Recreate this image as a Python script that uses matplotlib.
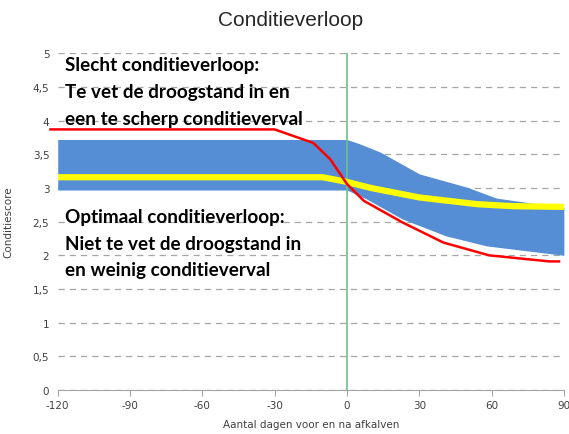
import matplotlib
matplotlib.use("Agg")
import matplotlib.pyplot as plt
from matplotlib.ticker import FuncFormatter
import numpy as np

plt.rcParams["axes.unicode_minus"] = False

# band (optimale range)
band_days = [-120, 0, 5, 14, 30, 50, 62, 90]
band_upper = [3.72, 3.72, 3.66, 3.53, 3.21, 3.01, 2.85, 2.71]
band_lower_days = [-120, 0, 8, 23, 41, 58, 90]
band_lower = [2.97, 2.97, 2.84, 2.54, 2.29, 2.14, 2.0]

# optimaal verloop (geel)
opt_days = [-120, -10, 0, 10, 30, 54, 69, 90]
opt_score = [3.16, 3.16, 3.09, 3.0, 2.86, 2.76, 2.73, 2.72]

# slecht verloop (rood)
bad_days = [-123, -30, -14, -7, 0, 7, 23, 40, 59, 84, 88]
bad_score = [3.87, 3.87, 3.67, 3.43, 3.06, 2.81, 2.49, 2.19, 2.0, 1.91, 1.91]

x_ticks = [-120, -90, -60, -30, 0, 30, 60, 90]
y_ticks = [0, 0.5, 1, 1.5, 2, 2.5, 3, 3.5, 4, 4.5, 5]

bad_text = ["Slecht conditieverloop:", "Te vet de droogstand in en",
            "een te scherp conditieverval"]
opt_text = ["Optimaal conditieverloop:", "Niet te vet de droogstand in",
            "en weinig conditieverval"]

fig = plt.figure(figsize=(5.69, 4.35), dpi=100)
ax = fig.add_axes([0.1014, 0.1011, 0.8896, 0.774])
ax.set_axisbelow(True)

all_days = sorted(set(band_days) | set(band_lower_days))
ax.fill_between(all_days, np.interp(all_days, band_days, band_upper),
                np.interp(all_days, band_lower_days, band_lower),
                color="#558ed5", lw=0, zorder=2)

ax.plot(opt_days, opt_score, color="#ffff00", lw=4.5, zorder=4,
        solid_capstyle="butt")
ax.plot(bad_days, bad_score, color="#ff0000", lw=1.8, zorder=5,
        clip_on=False)

ax.axvline(0, ymin=0, ymax=1, color="#6cc08b", lw=1.2, zorder=3)

ax.set_xlim(-120, 90)
ax.set_ylim(0, 5)
ax.set_xticks(x_ticks)
ax.set_yticks(y_ticks)
ax.yaxis.set_major_formatter(FuncFormatter(
    lambda v, p: (f"{v:g}").replace(".", ",")))
ax.grid(axis="y", color="#a6a6a6", ls=(0, (5, 4)), lw=0.9)
for s in ["top", "right", "left"]:
    ax.spines[s].set_visible(False)
ax.spines["bottom"].set_color("#a6a6a6")
ax.tick_params(axis="x", colors="#a6a6a6", labelcolor="#404040",
               labelsize=7.5, length=4, direction="out")
ax.tick_params(axis="y", length=0, labelcolor="#404040", labelsize=7.5, pad=6)
ax.set_xlabel("Aantal dagen voor en na afkalven", fontsize=7.5,
              color="#404040", labelpad=6)
ax.set_ylabel("Conditiescore", fontsize=7.5, color="#404040", labelpad=14)
fig.suptitle("Conditieverloop", x=0.51, y=0.975, fontsize=15,
             color="#262626", family="Liberation Sans")

for i, line in enumerate(bad_text):
    ax.text(-117, 4.84 - i * 0.405, line, fontsize=13.6, fontweight="bold",
            family="Lato", va="center", ha="left", zorder=6)
for i, line in enumerate(opt_text):
    ax.text(-117, 2.57 - i * 0.39, line, fontsize=13.6, fontweight="bold",
            family="Lato", va="center", ha="left", zorder=6)

fig.savefig("out.png", dpi=100)
